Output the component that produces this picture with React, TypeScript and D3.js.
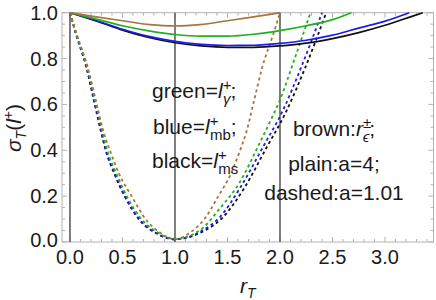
import React from "react";
import * as d3 from "d3";

// solid curves (a = 4)
const solidBrown: [number, number][] = [[0, 1], [0.25, 0.982], [0.5, 0.965], [0.76, 0.948], [1, 0.942], [1.24, 0.948], [1.5, 0.965], [1.75, 0.982], [2, 1]];
const solidGreen: [number, number][] = [[0, 1], [0.25, 0.972], [0.5, 0.943], [0.75, 0.921], [1, 0.905], [1.25, 0.898], [1.5, 0.898], [1.75, 0.906], [2, 0.922], [2.25, 0.943], [2.5, 0.97], [2.68, 1]];
const solidBlue: [number, number][] = [[0, 1], [0.25, 0.966], [0.5, 0.928], [0.75, 0.897], [1, 0.875], [1.25, 0.862], [1.5, 0.857], [1.75, 0.858], [2, 0.866], [2.25, 0.88], [2.5, 0.902], [2.75, 0.933], [3, 0.963], [3.23, 1]];
const solidBlack: [number, number][] = [[0, 1], [0.25, 0.964], [0.5, 0.924], [0.75, 0.892], [1, 0.869], [1.25, 0.855], [1.5, 0.849], [1.75, 0.849], [2, 0.855], [2.25, 0.867], [2.5, 0.887], [2.75, 0.913], [3, 0.945], [3.25, 0.983], [3.36, 1]];

// dashed curves (a = 1.01)
const dashBrown: [number, number][] = [[0, 1], [0.065, 0.905], [0.17, 0.76], [0.245, 0.62], [0.32, 0.48], [0.38, 0.4], [0.47, 0.295], [0.587, 0.2], [0.72, 0.1], [0.86, 0.04], [1, 0.012], [1.14, 0.04], [1.28, 0.1], [1.413, 0.2], [1.53, 0.295], [1.62, 0.4], [1.68, 0.48], [1.755, 0.62], [1.83, 0.76], [1.935, 0.905], [2, 1]];
const dashGreen: [number, number][] = [[0, 1], [0.062, 0.905], [0.165, 0.76], [0.238, 0.62], [0.31, 0.48], [0.355, 0.4], [0.445, 0.295], [0.54, 0.2], [0.685, 0.098], [0.84, 0.04], [1, 0.014], [1.24, 0.052], [1.43, 0.148], [1.62, 0.263], [1.79, 0.416], [1.9, 0.52], [2, 0.62], [2.14, 0.8], [2.29, 1]];
const dashBlue: [number, number][] = [[0, 1], [0.06, 0.905], [0.16, 0.76], [0.23, 0.62], [0.3, 0.48], [0.343, 0.4], [0.43, 0.295], [0.524, 0.2], [0.667, 0.096], [0.826, 0.038], [1, 0.012], [1.24, 0.045], [1.43, 0.11], [1.62, 0.236], [1.84, 0.416], [2.03, 0.576], [2.2, 0.76], [2.4, 1]];
const dashBlack: [number, number][] = [[0, 1], [0.058, 0.905], [0.157, 0.76], [0.226, 0.62], [0.296, 0.48], [0.34, 0.4], [0.425, 0.295], [0.52, 0.2], [0.662, 0.096], [0.822, 0.038], [1, 0.012], [1.25, 0.042], [1.45, 0.105], [1.65, 0.228], [1.87, 0.41], [2.06, 0.57], [2.24, 0.76], [2.44, 1]];

const xTicks = [0, 0.5, 1, 1.5, 2, 2.5, 3];
const yTicks = [0, 0.2, 0.4, 0.6, 0.8, 1];
const vLines = [0, 1, 2];

const BROWN = "#a8733e";
const GREEN = "#1fb01f";
const BLUE = "#1c1cf0";
const BLACK = "#111";
const FONT = "'Liberation Sans', Arial, sans-serif";

export default function App() {
  const width = 436;
  const height = 300;
  const left = 62, right = 433.5, top = 12.7, bottom = 242;

  const x = d3.scaleLinear().domain([-0.076, 3.462]).range([left, right]);
  const y = d3.scaleLinear().domain([0, 1]).range([bottom, top]);

  const line = d3
    .line<[number, number]>()
    .x((d) => x(d[0]))
    .y((d) => y(d[1]))
    .curve(d3.curveMonotoneX);

  const xMinor = d3.range(0, 35).map((i) => i / 10).filter((v) => x(v) < right);
  const yMinor = d3.range(0, 21).map((i) => i / 20);

  const solids = [
    { data: solidBlack, color: BLACK },
    { data: solidBlue, color: BLUE },
    { data: solidGreen, color: GREEN },
    { data: solidBrown, color: BROWN },
  ];
  const dashes = [
    { data: dashBlack, color: BLACK },
    { data: dashBlue, color: BLUE },
    { data: dashGreen, color: GREEN },
    { data: dashBrown, color: BROWN },
  ];

  return (
    <svg width={width} height={height} style={{ position: "absolute", left: 0, top: 0, background: "#fff" }} fontFamily={FONT}>
      <defs>
        <clipPath id="plot">
          <rect x={left} y={top - 1} width={right - left} height={bottom - top + 1} />
        </clipPath>
      </defs>

      {/* frame */}
      <rect x={left} y={top} width={right - left} height={bottom - top} fill="none" stroke="#b3b3b3" strokeWidth={1} />

      {/* ticks */}
      {xMinor.map((v, i) => {
        const major = Math.abs(v * 2 - Math.round(v * 2)) < 1e-6;
        const len = major ? 5 : 3;
        return (
          <g key={"xt" + i} stroke="#b3b3b3" strokeWidth={1}>
            <line x1={x(v)} x2={x(v)} y1={bottom} y2={bottom - len} />
            <line x1={x(v)} x2={x(v)} y1={top} y2={top + len} />
          </g>
        );
      })}
      {yMinor.map((v, i) => {
        const major = i % 4 === 0;
        const len = major ? 5 : 3;
        return (
          <g key={"yt" + i} stroke="#b3b3b3" strokeWidth={1}>
            <line x1={left} x2={left + len} y1={y(v)} y2={y(v)} />
            <line x1={right} x2={right - len} y1={y(v)} y2={y(v)} />
          </g>
        );
      })}

      {/* vertical reference lines */}
      {vLines.map((v) => (
        <line key={"v" + v} x1={x(v)} x2={x(v)} y1={top} y2={bottom} stroke="#5f5f5f" strokeWidth={1.6} />
      ))}

      <g clipPath="url(#plot)" fill="none">
        {dashes.map((s, i) => (
          <path key={"d" + i} d={line(s.data) || ""} stroke={s.color} strokeWidth={1.8} strokeDasharray="3,3" />
        ))}
        {solids.map((s, i) => (
          <path key={"s" + i} d={line(s.data) || ""} stroke={s.color} strokeWidth={1.7} />
        ))}
      </g>

      {/* tick labels */}
      {yTicks.map((v) => (
        <text key={"yl" + v} x={58} y={v === 0 ? y(v) - 2 : y(v)} dy="0.35em" textAnchor="end" fontSize={20} fill="#1a1a1a">
          {v.toFixed(1)}
        </text>
      ))}
      {xTicks.map((v) => (
        <text key={"xl" + v} x={x(v)} y={264} textAnchor="middle" fontSize={20} fill="#1a1a1a">
          {v.toFixed(1)}
        </text>
      ))}

      {/* axis titles */}
      <text x={240} y={293} fontSize={21} fill="#1a1a1a">
        <tspan fontStyle="italic">r</tspan>
        <tspan fontSize={14} dy={5} fontStyle="italic">T</tspan>
      </text>
      <text transform="translate(21,128) rotate(-90)" textAnchor="middle" fontSize={21} fill="#1a1a1a">
        <tspan fontStyle="italic">σ</tspan>
        <tspan fontSize={14} dy={5} fontStyle="italic">T</tspan>
        <tspan dy={-5}>(</tspan>
        <tspan fontStyle="italic">l</tspan>
        <tspan fontSize={14} dy={-8}>+</tspan>
        <tspan dy={8}>)</tspan>
      </text>

      {/* annotations */}
      <g fontSize={21} fill="#1a1a1a">
        <text x={152} y={98}>
          green=<tspan fontStyle="italic">l</tspan>
          <tspan fontSize={15} dy={-8}>+</tspan>
          <tspan fontSize={15} dx={-8.5} dy={14} fontStyle="italic">γ</tspan>
          <tspan dy={-6}>;</tspan>
        </text>
        <text x={153} y={134}>
          blue=<tspan fontStyle="italic">l</tspan>
          <tspan fontSize={15} dy={-8}>+</tspan>
          <tspan fontSize={15} dx={-8.5} dy={14}>mb</tspan>
          <tspan dy={-6}>;</tspan>
        </text>
        <text x={152} y={168}>
          black=<tspan fontStyle="italic">l</tspan>
          <tspan fontSize={15} dy={-8}>+</tspan>
          <tspan fontSize={15} dx={-8.5} dy={14}>ms</tspan>
        </text>
        <text x={334} y={136} textAnchor="middle">
          brown:<tspan fontStyle="italic">r</tspan>
          <tspan fontSize={15} dy={-8}>±</tspan>
          <tspan fontSize={15} dx={-8.5} dy={14} fontStyle="italic">ϵ</tspan>
          <tspan dy={-6}>;</tspan>
        </text>
        <text x={334} y={171} textAnchor="middle">plain:a=4;</text>
        <text x={334} y={200} textAnchor="middle">dashed:a=1.01</text>
      </g>
    </svg>
  );
}
